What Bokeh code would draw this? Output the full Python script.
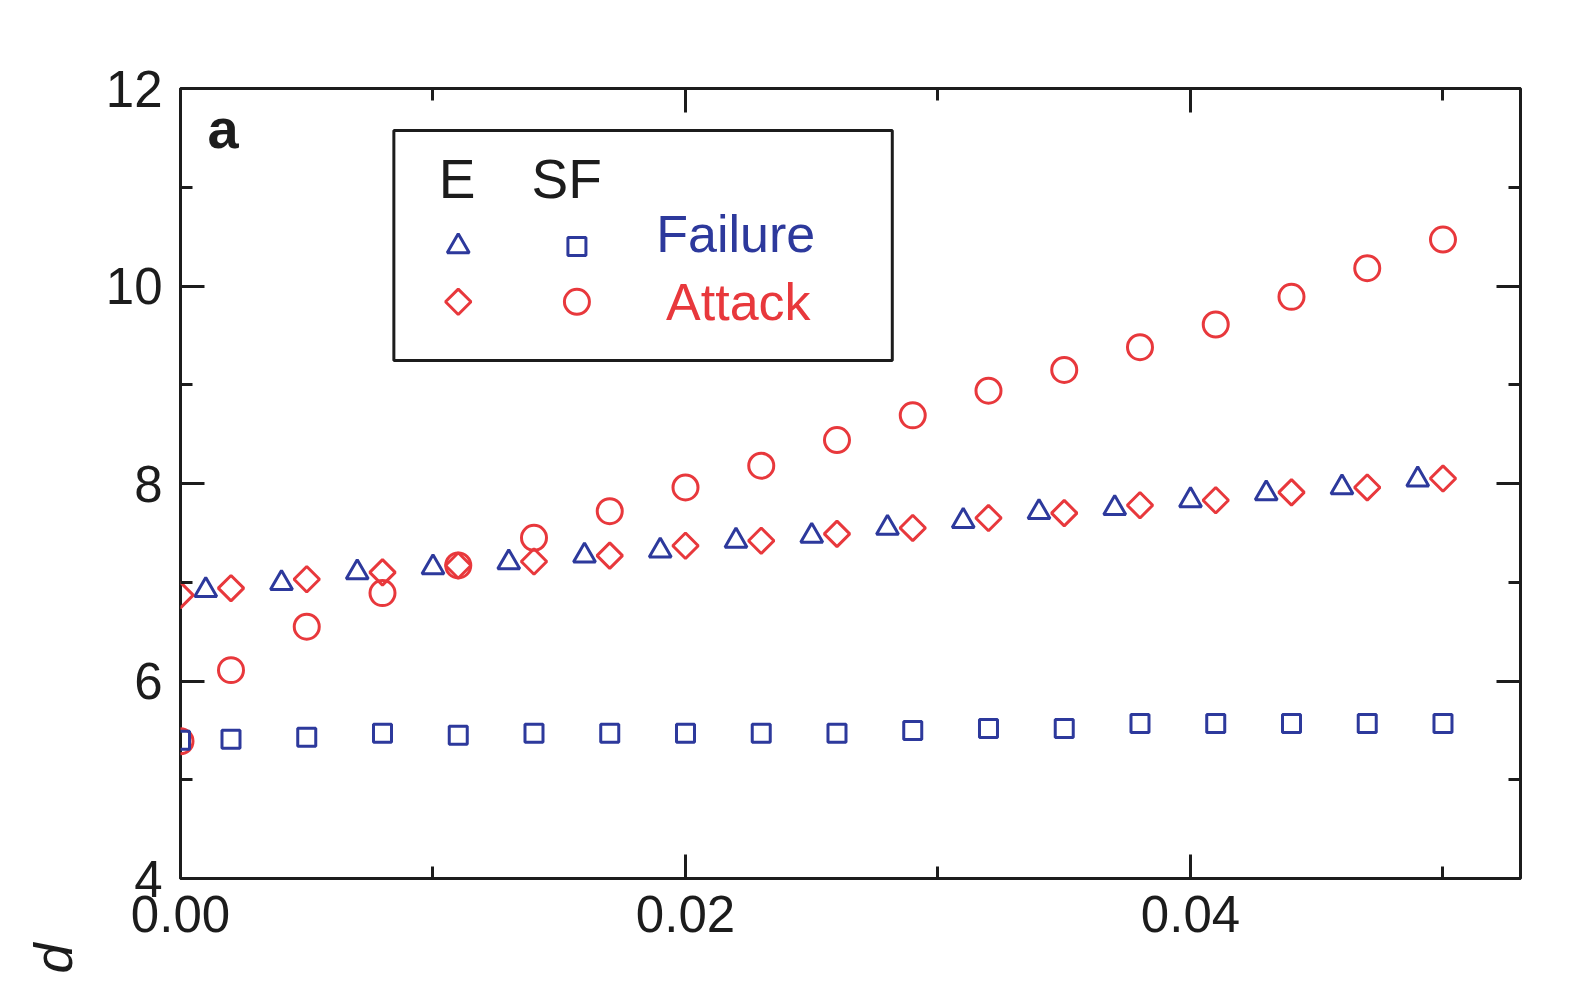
import numpy as np
from bokeh.plotting import figure
from bokeh.models import (Range1d, FixedTicker, LinearAxis, PrintfTickFormatter,
                          Label, BoxAnnotation, Title)
from bokeh.embed import file_html
from bokeh.resources import INLINE

# ---------------- data ----------------
# fraction of removed nodes f
f_main = [0.000, 0.002, 0.005, 0.008, 0.011, 0.014, 0.017, 0.020, 0.023,
          0.026, 0.029, 0.032, 0.035, 0.038, 0.041, 0.044, 0.047, 0.050]
f_e_fail = [0.001, 0.004, 0.007, 0.010, 0.013, 0.016, 0.019, 0.022, 0.025,
            0.028, 0.031, 0.034, 0.037, 0.040, 0.043, 0.046, 0.049]

d_e_failure = [6.92, 6.99, 7.10, 7.15, 7.20, 7.27, 7.32, 7.42, 7.47,
               7.55, 7.62, 7.71, 7.75, 7.83, 7.90, 7.96, 8.04]
d_e_attack = [6.87, 6.94, 7.03, 7.10, 7.17, 7.21, 7.27, 7.37, 7.42,
              7.49, 7.55, 7.65, 7.70, 7.78, 7.83, 7.91, 7.96, 8.05]
d_sf_failure = [5.40, 5.41, 5.43, 5.47, 5.45, 5.47, 5.47, 5.47, 5.47,
                5.47, 5.50, 5.52, 5.52, 5.57, 5.57, 5.57, 5.57, 5.57]
d_sf_attack = [5.39, 6.11, 6.55, 6.89, 7.17, 7.45, 7.72, 7.96, 8.18,
               8.44, 8.69, 8.94, 9.15, 9.38, 9.61, 9.89, 10.18, 10.47]

x_ticks = [0.0, 0.02, 0.04]
x_minor = [0.01, 0.03, 0.05]
y_ticks = [4, 6, 8, 10, 12]
y_minor = [5, 7, 9, 11]

BLUE = "#2d399c"
RED = "#e8383c"
INK = "#1c1c1c"
FONT = "Liberation Sans"

p = figure(width=1587, height=977, x_range=Range1d(0, 0.05307), y_range=Range1d(4, 12),
           output_backend="svg", toolbar_location=None,
           min_border_left=176, min_border_right=67, min_border_top=88, min_border_bottom=99)
p.grid.visible = False
p.outline_line_color = INK
p.outline_line_width = 3
p.background_fill_color = "white"
p.border_fill_color = "white"


def style_axis(ax, ticks, minor):
    ax.ticker = FixedTicker(ticks=ticks, minor_ticks=minor)
    ax.axis_line_color = None
    ax.major_tick_in = 24
    ax.major_tick_out = 0
    ax.minor_tick_in = 12
    ax.minor_tick_out = 0
    ax.major_tick_line_width = 3
    ax.minor_tick_line_width = 3
    ax.major_tick_line_color = INK
    ax.minor_tick_line_color = INK
    ax.major_label_text_font = FONT
    ax.major_label_text_font_size = "51px"
    ax.major_label_text_color = INK


xa = p.xaxis[0]
style_axis(xa, x_ticks, x_minor)
xa.formatter = PrintfTickFormatter(format="%.2f")
xa.major_label_standoff = 17

ya = p.yaxis[0]
style_axis(ya, y_ticks, y_minor)
ya.major_label_standoff = 18

top = LinearAxis()
style_axis(top, x_ticks, x_minor)
top.major_label_text_color = None
top.major_label_text_font_size = "10px"
p.add_layout(top, "above")

right = LinearAxis()
style_axis(right, y_ticks, y_minor)
right.major_label_text_color = None
right.major_label_text_font_size = "10px"
p.add_layout(right, "right")

# ---------------- data markers ----------------
LW = 3
p.scatter(f_e_fail, d_e_failure, marker="triangle", size=22, fill_color=None,
          line_color=BLUE, line_width=LW)
p.scatter(f_main, d_e_attack, marker="square", angle=np.pi / 4, size=18, fill_color=None,
          line_color=RED, line_width=LW)
p.scatter(f_main, d_sf_attack, marker="circle", size=25, fill_color=None,
          line_color=RED, line_width=LW)
p.scatter(f_main, d_sf_failure, marker="square", size=18, fill_color=None,
          line_color=BLUE, line_width=LW)

# ---------------- legend (manual) ----------------
box = BoxAnnotation(left=0.00845, right=0.02819, top=11.575, bottom=9.246,
                    fill_color="white", fill_alpha=1.0, line_color=INK, line_alpha=1.0,
                    line_width=3, level="underlay")
p.add_layout(box)

leg_x = [0.0110, 0.0157]
leg_y = [10.40, 9.84]
p.scatter([leg_x[0]], [leg_y[0]], marker="triangle", size=22, fill_color=None,
          line_color=BLUE, line_width=LW)
p.scatter([leg_x[1]], [leg_y[0]], marker="square", size=18, fill_color=None,
          line_color=BLUE, line_width=LW)
p.scatter([leg_x[0]], [leg_y[1]], marker="square", angle=np.pi / 4, size=18, fill_color=None,
          line_color=RED, line_width=LW)
p.scatter([leg_x[1]], [leg_y[1]], marker="circle", size=25, fill_color=None,
          line_color=RED, line_width=LW)

for txt, x, y, col, fs in [("E", 0.01023, 11.08, INK, "55px"), ("SF", 0.0139, 11.08, INK, "55px"),
                           ("Failure", 0.01884, 10.525, BLUE, "52px"),
                           ("Attack", 0.01923, 9.835, RED, "52px")]:
    p.add_layout(Label(x=x, y=y, text=txt, text_font=FONT, text_font_size=fs,
                       text_color=col, text_align="left", text_baseline="alphabetic"))

p.add_layout(Label(x=0.00107, y=11.59, text="a", text_font=FONT, text_font_size="56px",
                   text_font_style="bold", text_color=INK, text_align="left",
                   text_baseline="alphabetic"))

# rotated axis symbol placed low at the left, as in the original figure
p.add_layout(Title(text="d", align="left", offset=-95, standoff=40, text_font=FONT,
                   text_font_size="54px", text_font_style="italic", text_color=INK), "left")

open("out.html", "w").write(file_html(p, INLINE))
